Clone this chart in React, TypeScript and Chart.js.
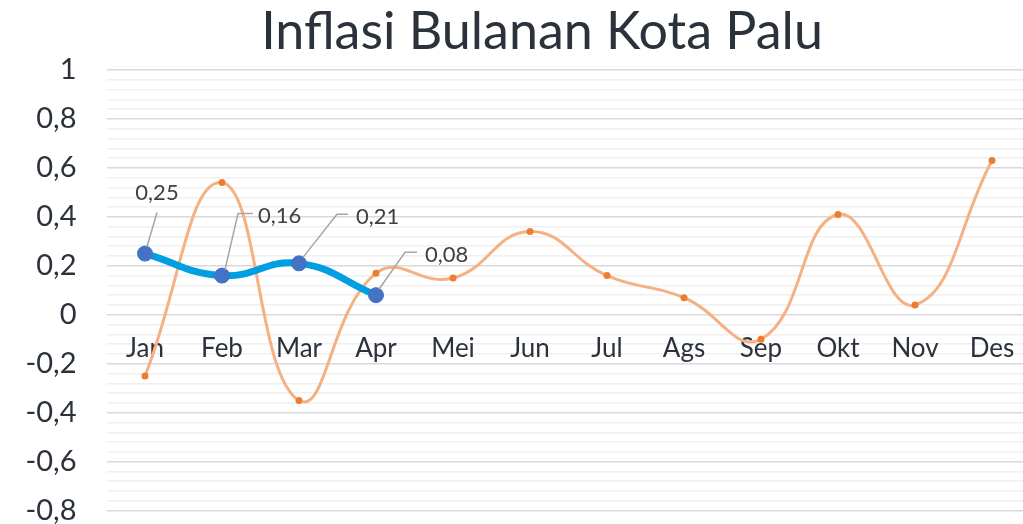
import React, { useEffect, useRef } from "react";
import { Chart, registerables } from "chart.js";

Chart.register(...registerables);

const categories = ["Jan", "Feb", "Mar", "Apr", "Mei", "Jun", "Jul", "Ags", "Sep", "Okt", "Nov", "Des"];
const seriesCurrent = [0.25, 0.16, 0.21, 0.08];
const seriesPrevious = [-0.25, 0.54, -0.35, 0.17, 0.15, 0.34, 0.16, 0.07, -0.1, 0.41, 0.04, 0.63];
const yMin = -0.8;
const yMax = 1;
const titleText = "Inflasi Bulanan Kota Palu";

// label placement (style): text offset and leader-line path relative to the point
const labelStyles = [
  { text: [12, -61], align: "center", path: [[2, -7], [12, -41]] },
  { text: [36, -60], align: "left", path: [[3, -6], [16, -62], [31, -62]] },
  { text: [57, -46], align: "left", path: [[4, -6], [38, -49], [49, -49]] },
  { text: [49, -40], align: "left", path: [[3, -6], [29, -43], [41, -43]] },
];

const FONT = "Lato, 'Open Sans', sans-serif";
const TEXT = "#2b323c";

const isMajor = (v: number) => Math.abs(Math.round(v * 5) - v * 5) < 1e-6;
const fmt = (v: number) => String(Math.round(v * 10) / 10).replace(".", ",");
const fmt2 = (v: number) => v.toFixed(2).replace(".", ",");

const titlePlugin = {
  id: "centeredTitle",
  afterDraw(chart: any) {
    const ctx = chart.ctx;
    ctx.save();
    ctx.fillStyle = TEXT;
    ctx.font = `52px ${FONT}`;
    ctx.textAlign = "center";
    ctx.textBaseline = "middle";
    ctx.fillText(titleText, chart.width / 2, 32.2);
    ctx.restore();
  },
};

const dataLabelPlugin = {
  id: "leaderLabels",
  afterDatasetsDraw(chart: any) {
    const meta = chart.getDatasetMeta(0);
    const ctx = chart.ctx;
    ctx.save();
    meta.data.forEach((pt: any, i: number) => {
      const st = labelStyles[i];
      if (!st) return;
      ctx.strokeStyle = "#a6a6a6";
      ctx.lineWidth = 1.5;
      ctx.beginPath();
      st.path.forEach((p, j) => {
        if (j === 0) ctx.moveTo(pt.x + p[0], pt.y + p[1]);
        else ctx.lineTo(pt.x + p[0], pt.y + p[1]);
      });
      ctx.stroke();
      ctx.fillStyle = "#404040";
      ctx.font = `22px ${FONT}`;
      ctx.textAlign = st.align as CanvasTextAlign;
      ctx.textBaseline = "middle";
      ctx.fillText(fmt2(seriesCurrent[i]), pt.x + st.text[0], pt.y + st.text[1]);
    });
    ctx.restore();
  },
};

export default function App() {
  const ref = useRef<HTMLCanvasElement | null>(null);
  useEffect(() => {
    document.body.style.overflow = "hidden";
    document.documentElement.style.overflow = "hidden";
    const chart = new Chart(ref.current as HTMLCanvasElement, {
      type: "line",
      data: {
        labels: categories,
        datasets: [
          {
            label: "Current",
            data: seriesCurrent,
            borderColor: "#009fe3",
            borderWidth: 7,
            backgroundColor: "#4472c4",
            pointBackgroundColor: "#4472c4",
            pointBorderColor: "#4472c4",
            pointRadius: 7.5,
            pointBorderWidth: 1,
            tension: 0.45,
            fill: false,
          },
          {
            label: "Previous",
            data: seriesPrevious,
            borderColor: "#f4b183",
            borderWidth: 3,
            backgroundColor: "#ed7d31",
            pointBackgroundColor: "#ed7d31",
            pointBorderColor: "#ed7d31",
            pointRadius: 3.5,
            pointBorderWidth: 0,
            tension: 0.45,
            fill: false,
          },
        ],
      },
      options: {
        responsive: false,
        animation: false,
        devicePixelRatio: 1,
        layout: { padding: { left: 26.5, right: 53.5, top: 70, bottom: 29 } },
        plugins: {
          legend: { display: false },
          tooltip: { enabled: false },
          title: { display: false },
        },
        scales: {
          x: {
            type: "category",
            offset: true,
            position: { y: 0 } as any,
            grid: { display: false },
            border: { display: false },
            ticks: {
              color: TEXT,
              font: { family: FONT, size: 26 },
              padding: 10,
              maxRotation: 0,
              autoSkip: false,
            },
          },
          y: {
            min: yMin,
            max: yMax,
            border: { display: false },
            afterFit: (s: any) => {
              s.width = 80;
            },
            grid: {
              drawTicks: false,
              color: (c: any) => (isMajor(c.tick.value) ? "#d9d9d9" : "#f0f0f0"),
              lineWidth: 1.5,
            },
            ticks: {
              stepSize: 0.04,
              maxTicksLimit: 100,
              autoSkip: false,
              padding: 30,
              color: TEXT,
              font: { family: FONT, size: 29 },
              callback: (v: any) => (isMajor(Number(v)) ? fmt(Number(v)) : ""),
            },
          },
        },
      },
      plugins: [dataLabelPlugin, titlePlugin],
    });
    return () => chart.destroy();
  }, []);
  return (
    <div style={{ position: "absolute", left: 0, top: 0, width: 1084, height: 558 }}>
      <canvas ref={ref} width={1084} height={558} style={{ display: "block" }} />
    </div>
  );
}
